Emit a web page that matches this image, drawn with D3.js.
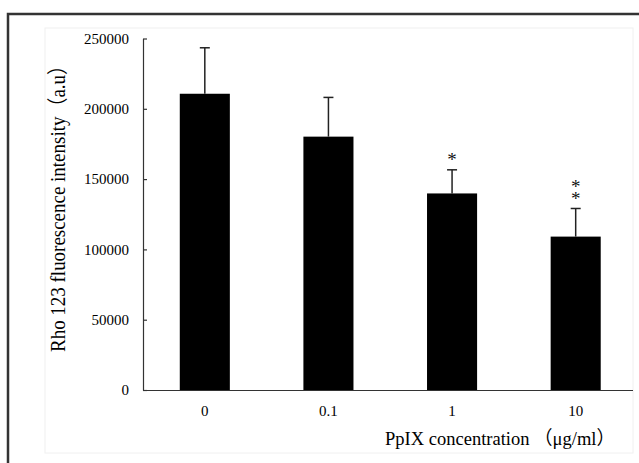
<!DOCTYPE html>
<html>
<head>
<meta charset="utf-8">
<script src="https://cdn.jsdelivr.net/npm/d3@7"></script>
<style>
  html, body { margin: 0; padding: 0; background: #fff; }
  svg { display: block; }
  .axis text { font-family: "Liberation Serif", "Times New Roman", serif; font-size: 15px; fill: #000; }
</style>
</head>
<body>
<div id="chart"></div>
<script>
const W = 639, H = 463;

// data
const categories = ["0", "0.1", "1", "10"];
const means = [210700, 180200, 139800, 109100];
const errors = [32700, 27900, 16800, 20000];
const marks = ["", "", "*", "**"];
const yTicks = [0, 50000, 100000, 150000, 200000, 250000];

const plotL = 143, plotR = 633, plotT = 38.5, plotB = 390;
const serif = "'Liberation Serif', 'Noto Sans CJK SC', serif";

const svg = d3.select("#chart").append("svg").attr("width", W).attr("height", H);

// outer frame, open to the right and bottom like the cropped original
svg.append("path")
    .attr("d", `M8,${H + 5} L8,14 L${W + 5},14`)
    .attr("fill", "none").attr("stroke", "#333").attr("stroke-width", 2.5);

// faint plot-area box
svg.append("rect")
    .attr("x", 45).attr("y", 28).attr("width", plotR - 45).attr("height", 425)
    .attr("fill", "none").attr("stroke", "#f0f0f0").attr("stroke-width", 1);

const x = d3.scaleBand().domain(categories).range([plotL, 637.5])
    .paddingInner(0.595).paddingOuter(0.2975);
const y = d3.scaleLinear().domain([0, 250000]).range([plotB, plotT]);

// y axis (ticks point inward)
const yAxis = svg.append("g").attr("class", "axis").attr("transform", `translate(${plotL},0)`)
    .call(d3.axisLeft(y).tickValues(yTicks).tickFormat(d3.format("d"))
        .tickSize(-4).tickSizeOuter(0).tickPadding(14));
yAxis.select(".domain").attr("stroke", "#333").attr("stroke-width", 1.2);
yAxis.selectAll(".tick line").attr("stroke", "#333").attr("stroke-width", 1.2);

// x axis: line only, labels below
const xAxis = svg.append("g").attr("class", "axis").attr("transform", `translate(0,${plotB})`)
    .call(d3.axisBottom(x).tickSize(0).tickPadding(15));
xAxis.select(".domain").attr("d", `M${plotL},0.5H${plotR}`)
    .attr("stroke", "#333").attr("stroke-width", 1.2);

// bars
svg.append("g").selectAll("rect").data(categories).join("rect")
    .attr("x", d => x(d))
    .attr("width", x.bandwidth())
    .attr("y", (d, i) => y(means[i]))
    .attr("height", (d, i) => plotB - y(means[i]))
    .attr("fill", "#000");

// error bars (upper only)
const eb = svg.append("g").attr("stroke", "#222").attr("stroke-width", 1.5);
categories.forEach((c, i) => {
  const cx = x(c) + x.bandwidth() / 2;
  const yt = y(means[i] + errors[i]);
  eb.append("line").attr("x1", cx).attr("x2", cx).attr("y1", y(means[i])).attr("y2", yt);
  eb.append("line").attr("x1", cx - 5).attr("x2", cx + 5).attr("y1", yt).attr("y2", yt);
});

// significance stars: one vertical text per bar, so "**" stacks like the original
const step = 11.6;
categories.forEach((c, i) => {
  const n = marks[i].length;
  if (!n) return;
  const cx = x(c) + x.bandwidth() / 2;
  const yt = y(means[i] + errors[i]);
  const t = svg.append("text")
      .attr("x", cx)
      .attr("y", yt - 13.5 - (n - 1) * step - 7)
      .attr("font-family", serif)
      .attr("font-size", 19)
      .attr("fill", "#111")
      .style("writing-mode", "vertical-rl")
      .style("text-orientation", "upright")
      .text(marks[i]);
  if (n > 1) {
    // measure the natural glyph advance, then tighten to the wanted step
    const node = t.node();
    const p0 = node.getStartPositionOfChar(0), p1 = node.getStartPositionOfChar(1);
    const adv = Math.hypot(p1.x - p0.x, p1.y - p0.y);
    t.style("letter-spacing", (step - adv) + "px");
  }
});

// axis titles (the original's lettering is a little condensed)
svg.append("text")
    .attr("transform", `translate(65,352) rotate(-90)`)
    .attr("text-anchor", "start")
    .attr("font-family", serif)
    .attr("font-size", 21)
    .attr("textLength", 296)
    .attr("lengthAdjust", "spacingAndGlyphs")
    .attr("fill", "#000")
    .text("Rho 123 fluorescence intensity（a.u）");

svg.append("text")
    .attr("x", 385).attr("y", 445)
    .attr("text-anchor", "start")
    .attr("font-family", serif)
    .attr("font-size", 19)
    .attr("textLength", 230)
    .attr("lengthAdjust", "spacingAndGlyphs")
    .attr("fill", "#000")
    .text("PpIX concentration （μg/ml）");
</script>
</body>
</html>
